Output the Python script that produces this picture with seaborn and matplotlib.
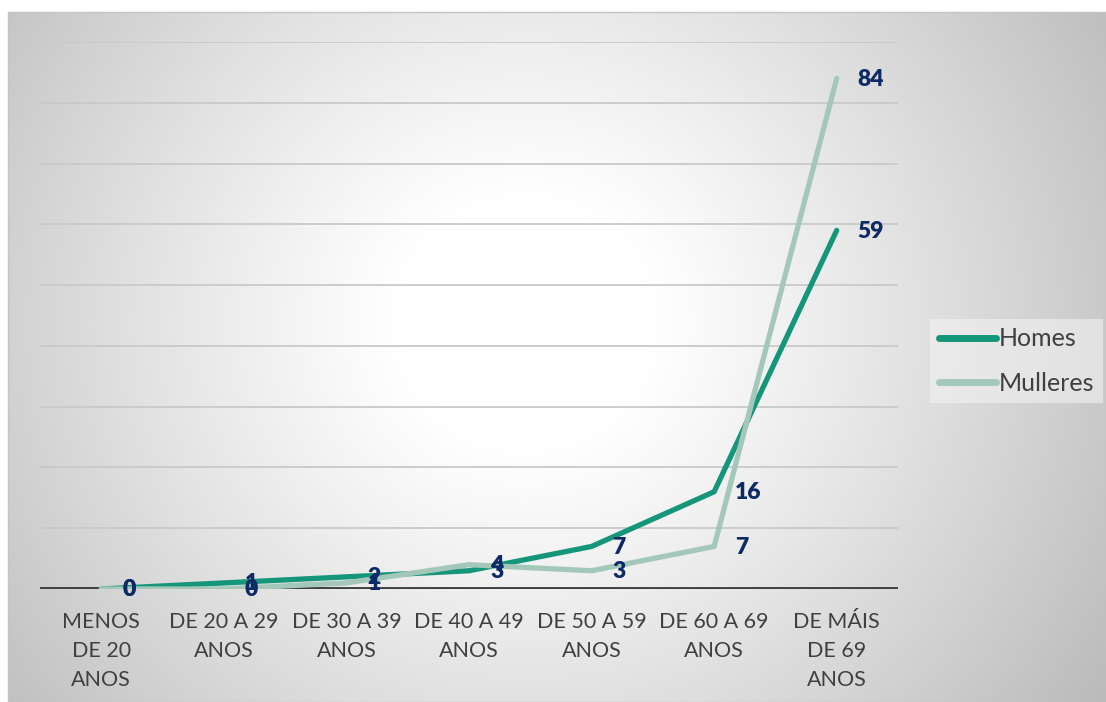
import matplotlib.pyplot as plt
import seaborn as sns
import numpy as np
import pandas as pd

# datos
grupos = ["MENOS\nDE 20\nANOS", "DE 20 A 29\nANOS", "DE 30 A 39\nANOS",
          "DE 40 A 49\nANOS", "DE 50 A 59\nANOS", "DE 60 A 69\nANOS",
          "DE MÁIS\nDE 69\nANOS"]
homes = [0, 1, 2, 3, 7, 16, 59]
mulleres = [0, 0, 1, 4, 3, 7, 84]
series = ["Homes", "Mulleres"]
cores = {"Homes": "#15967a", "Mulleres": "#a3c8ba"}

df = pd.DataFrame({
    "grupo": grupos * 2,
    "valor": homes + mulleres,
    "serie": ["Homes"] * len(grupos) + ["Mulleres"] * len(grupos),
})

sns.set_style("white")
plt.rcParams['font.family'] = ['Lato', 'DejaVu Sans']

W, H = 1106, 702
fig = plt.figure(figsize=(W / 100, H / 100), dpi=100)
fig.patch.set_facecolor("white")

# fondo con degradado radial
bg = fig.add_axes([8 / W, 0, 1 - 8 / W, 1 - 12 / H])
ny, nx = 300, 500
yy, xx = np.mgrid[0:ny, 0:nx]
cx, cy = 0.47 * nx, 0.45 * ny
r = np.sqrt(((xx - cx) / nx) ** 2 + ((yy - cy) / ny * 0.65) ** 2)
r = r / r.max()
v = 1 - 0.27 * np.clip((r - 0.18) / 0.82, 0, 1) ** 1.1
bg.imshow(np.dstack([v, v, v]), aspect="auto", extent=[0, 1, 0, 1])
bg.set_xticks([])
bg.set_yticks([])
for s in bg.spines.values():
    s.set_color("#c4c4c4")
    s.set_linewidth(1)

ax = fig.add_axes([40 / W, 1 - 589 / H, (898 - 40) / W, (589 - 42) / H])
ax.patch.set_alpha(0)

sns.lineplot(data=df, x="grupo", y="valor", hue="serie", palette=cores,
             hue_order=series, linewidth=3.8, sort=False, ax=ax,
             solid_capstyle="round", legend=True)

ax.set_ylim(0, 90)
ax.set_xlim(-0.5, len(grupos) - 0.5)
ax.set_yticks(np.arange(0, 91, 10))
ax.yaxis.grid(True, color="#c9c9c9", linewidth=1.3)
ax.set_axisbelow(True)
ax.tick_params(axis="y", left=False, labelleft=False)
ax.tick_params(axis="x", bottom=False, pad=13, labelsize=15.5, labelcolor="#404040")
for lbl in ax.get_xticklabels():
    lbl.set_linespacing(1.55)
ax.axhline(0, color="#404040", linewidth=2.8, zorder=1.5)
for s in ax.spines.values():
    s.set_visible(False)
ax.set_xlabel("")
ax.set_ylabel("")

# etiquetas de datos
for vals in (homes, mulleres):
    for i, val in enumerate(vals):
        ax.annotate(str(val), (i, val), xytext=(21, -1), textcoords="offset pixels",
                    ha="left", va="center", fontsize=16.5, fontweight="heavy",
                    color="#0e2a66")

leg = ax.legend(loc="center left", bbox_to_anchor=(930 / W, 1 - 361 / H),
                bbox_transform=fig.transFigure, frameon=True, fontsize=18,
                handlelength=2.3, handletextpad=0.1, labelspacing=0.85,
                borderpad=0.35, borderaxespad=0)
leg.get_frame().set_facecolor("#f2f2f2")
leg.get_frame().set_alpha(0.6)
leg.get_frame().set_edgecolor("none")
leg.get_frame().set_boxstyle("square", pad=0)
for t in leg.get_texts():
    t.set_color("#404040")
for h in leg.get_lines():
    h.set_linewidth(5)
    h.set_solid_capstyle("round")

plt.savefig("out.png", dpi=100)
